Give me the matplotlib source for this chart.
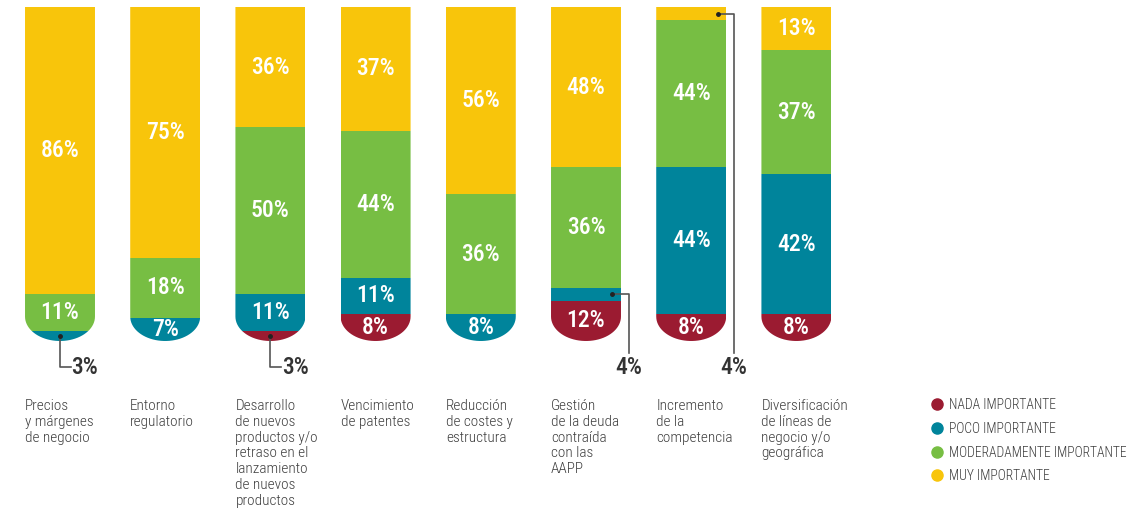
import numpy as np
import matplotlib.pyplot as plt
from matplotlib.path import Path
from matplotlib.lines import Line2D

categories = ['Precios\ny márgenes\nde negocio', 'Entorno\nregulatorio',
              'Desarrollo\nde nuevos\nproductos y/o\nretraso en el\nlanzamiento\nde nuevos\nproductos',
              'Vencimiento\nde patentes', 'Reducción\nde costes y\nestructura',
              'Gestión\nde la deuda\ncontraída\ncon las\nAAPP',
              'Incremento\nde la\ncompetencia',
              'Diversificación\nde líneas de\nnegocio y/o\ngeográfica']
nada = [0, 0, 3, 8, 0, 12, 8, 8]
poco = [3, 7, 11, 11, 8, 4, 44, 42]
moderado = [11, 18, 50, 44, 36, 36, 44, 37]
muy = [86, 75, 36, 37, 56, 48, 4, 13]

series = [('NADA IMPORTANTE', nada, '#9B1B31'),
          ('POCO IMPORTANTE', poco, '#00849B'),
          ('MODERADAMENTE IMPORTANTE', moderado, '#77BE43'),
          ('MUY IMPORTANTE', muy, '#F8C50B')]

# small values labelled outside with a leader line: (bar, series index, style)
callouts = [(0, 1, 'down'), (2, 0, 'down'), (5, 1, 'right'), (6, 3, 'right')]

narrow = ['Roboto Condensed', 'Barlow Condensed', 'Archivo Narrow', 'DejaVu Sans']
txt_col = '#3d3d3d'

fig = plt.figure(figsize=(11.45, 5.18), dpi=100)
ax = fig.add_axes([7.4 / 1145, 177 / 518, 841.6 / 1145, 334 / 518])
ax.set_xlim(-0.5, 7.5)
ax.set_ylim(0, 100)
ax.axis('off')

x = np.arange(len(categories))
width = 0.665
r = 7.3

def bar_shape(cx):
    hw = width / 2
    t = np.linspace(np.pi, 2 * np.pi, 40)
    arc = np.column_stack([cx + hw * np.cos(t), r + r * np.sin(t)])
    verts = np.vstack([[cx - hw, 100], arc, [cx + hw, 100], [cx - hw, 100]])
    return Path(verts, closed=True)

bottom = np.zeros(len(x))
for si, (name, vals, col) in enumerate(series):
    vals = np.array(vals, dtype=float)
    bars = ax.bar(x, vals, width, bottom=bottom, color=col, linewidth=0)
    for i, b in enumerate(bars):
        b.set_clip_path(bar_shape(x[i]), ax.transData)
        if vals[i] >= 5:
            ax.text(x[i], bottom[i] + vals[i] / 2, f'{int(vals[i])}%', color='white',
                    ha='center', va='center', fontsize=17, fontweight='medium',
                    family=narrow)
    bottom += vals

# leader lines for the small segments
cum = np.cumsum([np.array(s[1], dtype=float) for s in series], axis=0)
for bi, si, style in callouts:
    v = series[si][1][bi]
    lo = cum[si][bi] - v
    mid = lo + v / 2
    if style == 'down':
        px, py = x[bi], mid
        ax.plot([px, px, px + 0.1], [py, -7.8, -7.8], color='#555555', lw=1.2, clip_on=False)
        ax.plot(px, py, 'o', color='#222222', ms=2.5, clip_on=False)
        ax.text(px + 0.11, -7.8, f'{v}%', ha='left', va='center', fontsize=17,
                fontweight='medium', color='#333333', family=narrow)
    else:
        px, py = x[bi] + 0.25, mid
        lx = x[bi] + 0.405
        ax.plot([px, lx, lx], [py, py, -3.5], color='#555555', lw=1.2, clip_on=False)
        ax.plot(px, py, 'o', color='#222222', ms=2.5, clip_on=False)
        ax.text(lx, -7.8, f'{v}%', ha='center', va='center', fontsize=17,
                fontweight='medium', color='#333333', family=narrow)

for i, lab in enumerate(categories):
    ax.text(x[i] - width / 2, -17.4, lab, ha='left', va='top', fontsize=11,
            color=txt_col, family=narrow, fontweight='light', linespacing=1.16)

handles = [Line2D([], [], marker='o', ls='', color=c, ms=8) for _, _, c in series]
fig.legend(handles, [s[0] for s in series], loc='upper left',
           bbox_to_anchor=(917 / 1145, 1 - 386 / 518), frameon=False,
           handletextpad=0.25, labelspacing=0.71, handlelength=1.2,
           prop={'family': narrow, 'size': 9.8, 'weight': 'light'},
           labelcolor=txt_col)

plt.savefig('out.png', dpi=100)
